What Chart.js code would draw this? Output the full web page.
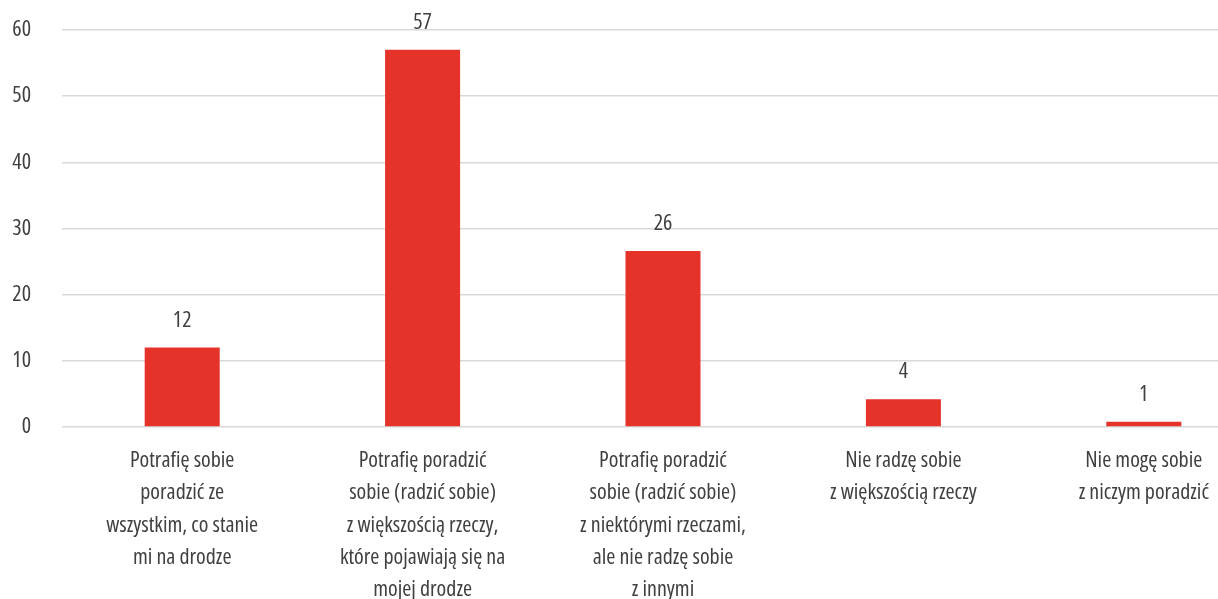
<!DOCTYPE html>
<html>
<head>
<meta charset="utf-8">
<script src="https://cdn.jsdelivr.net/npm/chart.js@4/dist/chart.umd.min.js"></script>
<style>
    html, body { margin: 0; padding: 0; background: #fff; overflow: hidden; }
    body { width: 1218px; height: 599px; }
    /* wykres jest szerszy niż okno – prawa część jest ucięta jak w oryginale */
    #wrap { width: 1264px; height: 599px; position: relative; }
</style>
</head>
<body>
<div id="wrap"><canvas id="bar-chart"></canvas></div>
<script>
const categories = [
    ['Potrafię sobie', 'poradzić ze', 'wszystkim, co stanie', 'mi na drodze'],
    ['Potrafię poradzić', 'sobie (radzić sobie)', 'z większością rzeczy,', 'które pojawiają się na', 'mojej drodze'],
    ['Potrafię poradzić', 'sobie (radzić sobie)', 'z niektórymi rzeczami,', 'ale nie radzę sobie', 'z innymi'],
    ['Nie radzę sobie', 'z większością rzeczy'],
    ['Nie mogę sobie', 'z niczym poradzić']
];
const values = [12, 57, 26.6, 4.2, 0.8];
const valueLabels = ['12', '57', '26', '4', '1'];
const yTicks = [0, 10, 20, 30, 40, 50, 60];

// Open Sans w wersji zwężonej (font-stretch w skrócie "font")
const FONT = "'Open Sans', sans-serif";
const STRETCH = 'condensed';
const TEXT = '#404040';

// napisy nad słupkami
const valueLabelPlugin = {
    id: 'valueLabels',
    afterDatasetsDraw(chart) {
        const ctx = chart.ctx;
        const meta = chart.getDatasetMeta(0);
        ctx.save();
        ctx.font = STRETCH + ' 22px ' + FONT;
        ctx.fillStyle = TEXT;
        ctx.textAlign = 'center';
        ctx.textBaseline = 'middle';
        meta.data.forEach((bar, i) => {
            ctx.fillText(valueLabels[i], bar.x, bar.y - 27);
        });
        ctx.restore();
    }
};

const ctx = document.getElementById('bar-chart').getContext('2d');
new Chart(ctx, {
    type: 'bar',
    data: {
        labels: categories,
        datasets: [{
            data: values,
            backgroundColor: '#e5332a',
            borderWidth: 0,
            barPercentage: 0.312,
            categoryPercentage: 1
        }]
    },
    options: {
        responsive: true,
        maintainAspectRatio: false,
        animation: false,
        layout: { padding: { top: 30, left: 0, right: 0, bottom: 0 } },
        plugins: {
            legend: { display: false },
            tooltip: { enabled: false }
        },
        scales: {
            x: {
                grid: { display: false, drawTicks: false },
                border: { display: false },
                ticks: {
                    color: TEXT,
                    font: { family: FONT, weight: STRETCH, size: 22, lineHeight: 1.46 },
                    padding: 18,
                    maxRotation: 0,
                    autoSkip: false
                },
                afterFit(axis) { axis.height = 172; }
            },
            y: {
                min: 0,
                max: 60,
                afterBuildTicks(axis) { axis.ticks = yTicks.map(v => ({ value: v })); },
                grid: { color: '#d9d9d9', lineWidth: 1.5, drawTicks: false },
                border: { display: false },
                ticks: {
                    color: TEXT,
                    font: { family: FONT, weight: STRETCH, size: 22 },
                    padding: 31
                },
                afterFit(axis) {
                    axis.width = 62;
                    axis.paddingTop = 12;
                    axis.paddingBottom = 12;
                }
            }
        }
    },
    plugins: [valueLabelPlugin]
});
</script>
</body>
</html>
